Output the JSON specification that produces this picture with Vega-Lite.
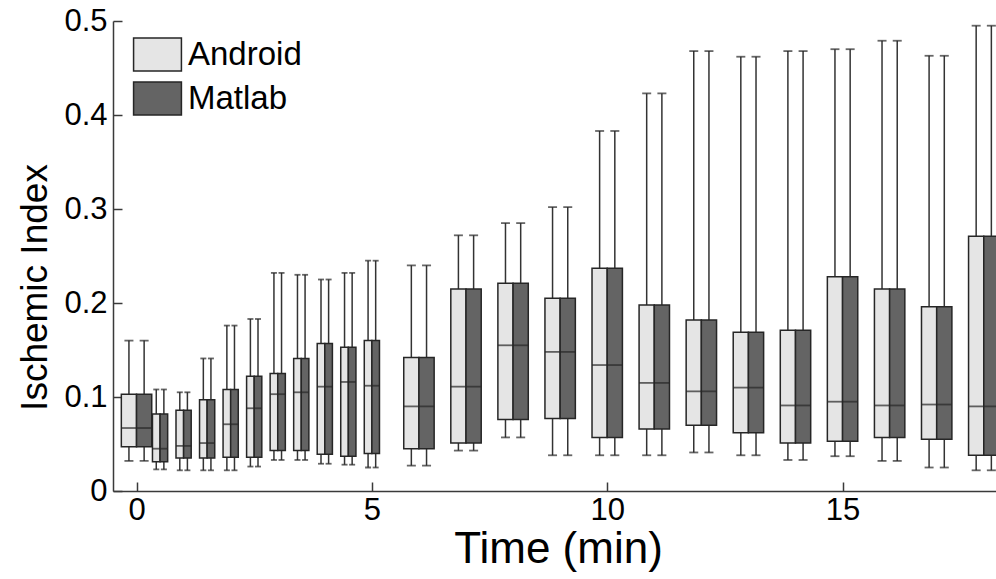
{
  "$schema": "https://vega.github.io/schema/vega-lite/v6.json",
  "width": 883,
  "height": 470,
  "autosize": {"type": "none"},
  "padding": {"left": 113, "top": 21, "right": 0, "bottom": 88},
  "background": "white",
  "config": {
    "view": {"stroke": null},
    "font": "Liberation Sans",
    "axis": {
      "grid": false,
      "domainColor": "#3a3a3a",
      "domainWidth": 1.5,
      "tickColor": "#3a3a3a",
      "tickWidth": 1.5,
      "tickSize": -9,
      "labelColor": "black",
      "titleColor": "black",
      "titleFontWeight": "normal"
    }
  },
  "data": {
    "values": [
      {"t": 0, "src": "Android", "lo": 0.032, "q1": 0.047, "med": 0.067, "q3": 0.103, "hi": 0.160},
      {"t": 0, "src": "Matlab", "lo": 0.032, "q1": 0.047, "med": 0.067, "q3": 0.103, "hi": 0.160},
      {"t": 0.5, "src": "Android", "lo": 0.023, "q1": 0.031, "med": 0.045, "q3": 0.082, "hi": 0.108},
      {"t": 0.5, "src": "Matlab", "lo": 0.023, "q1": 0.031, "med": 0.045, "q3": 0.082, "hi": 0.108},
      {"t": 1, "src": "Android", "lo": 0.022, "q1": 0.035, "med": 0.048, "q3": 0.086, "hi": 0.105},
      {"t": 1, "src": "Matlab", "lo": 0.022, "q1": 0.035, "med": 0.048, "q3": 0.086, "hi": 0.105},
      {"t": 1.5, "src": "Android", "lo": 0.022, "q1": 0.035, "med": 0.051, "q3": 0.097, "hi": 0.141},
      {"t": 1.5, "src": "Matlab", "lo": 0.022, "q1": 0.035, "med": 0.051, "q3": 0.097, "hi": 0.141},
      {"t": 2, "src": "Android", "lo": 0.022, "q1": 0.036, "med": 0.071, "q3": 0.108, "hi": 0.176},
      {"t": 2, "src": "Matlab", "lo": 0.022, "q1": 0.036, "med": 0.071, "q3": 0.108, "hi": 0.176},
      {"t": 2.5, "src": "Android", "lo": 0.026, "q1": 0.036, "med": 0.088, "q3": 0.122, "hi": 0.183},
      {"t": 2.5, "src": "Matlab", "lo": 0.026, "q1": 0.036, "med": 0.088, "q3": 0.122, "hi": 0.183},
      {"t": 3, "src": "Android", "lo": 0.033, "q1": 0.043, "med": 0.103, "q3": 0.125, "hi": 0.232},
      {"t": 3, "src": "Matlab", "lo": 0.033, "q1": 0.043, "med": 0.103, "q3": 0.125, "hi": 0.232},
      {"t": 3.5, "src": "Android", "lo": 0.033, "q1": 0.043, "med": 0.105, "q3": 0.141, "hi": 0.230},
      {"t": 3.5, "src": "Matlab", "lo": 0.033, "q1": 0.043, "med": 0.105, "q3": 0.141, "hi": 0.230},
      {"t": 4, "src": "Android", "lo": 0.029, "q1": 0.039, "med": 0.111, "q3": 0.157, "hi": 0.225},
      {"t": 4, "src": "Matlab", "lo": 0.029, "q1": 0.039, "med": 0.111, "q3": 0.157, "hi": 0.225},
      {"t": 4.5, "src": "Android", "lo": 0.028, "q1": 0.037, "med": 0.116, "q3": 0.153, "hi": 0.232},
      {"t": 4.5, "src": "Matlab", "lo": 0.028, "q1": 0.037, "med": 0.116, "q3": 0.153, "hi": 0.232},
      {"t": 5, "src": "Android", "lo": 0.025, "q1": 0.040, "med": 0.112, "q3": 0.160, "hi": 0.245},
      {"t": 5, "src": "Matlab", "lo": 0.025, "q1": 0.040, "med": 0.112, "q3": 0.160, "hi": 0.245},
      {"t": 6, "src": "Android", "lo": 0.027, "q1": 0.045, "med": 0.090, "q3": 0.142, "hi": 0.240},
      {"t": 6, "src": "Matlab", "lo": 0.027, "q1": 0.045, "med": 0.090, "q3": 0.142, "hi": 0.240},
      {"t": 7, "src": "Android", "lo": 0.043, "q1": 0.051, "med": 0.111, "q3": 0.215, "hi": 0.272},
      {"t": 7, "src": "Matlab", "lo": 0.043, "q1": 0.051, "med": 0.111, "q3": 0.215, "hi": 0.272},
      {"t": 8, "src": "Android", "lo": 0.057, "q1": 0.076, "med": 0.155, "q3": 0.221, "hi": 0.285},
      {"t": 8, "src": "Matlab", "lo": 0.057, "q1": 0.076, "med": 0.155, "q3": 0.221, "hi": 0.285},
      {"t": 9, "src": "Android", "lo": 0.038, "q1": 0.077, "med": 0.148, "q3": 0.205, "hi": 0.302},
      {"t": 9, "src": "Matlab", "lo": 0.038, "q1": 0.077, "med": 0.148, "q3": 0.205, "hi": 0.302},
      {"t": 10, "src": "Android", "lo": 0.038, "q1": 0.057, "med": 0.134, "q3": 0.237, "hi": 0.383},
      {"t": 10, "src": "Matlab", "lo": 0.038, "q1": 0.057, "med": 0.134, "q3": 0.237, "hi": 0.383},
      {"t": 11, "src": "Android", "lo": 0.038, "q1": 0.066, "med": 0.115, "q3": 0.198, "hi": 0.423},
      {"t": 11, "src": "Matlab", "lo": 0.038, "q1": 0.066, "med": 0.115, "q3": 0.198, "hi": 0.423},
      {"t": 12, "src": "Android", "lo": 0.041, "q1": 0.070, "med": 0.106, "q3": 0.182, "hi": 0.468},
      {"t": 12, "src": "Matlab", "lo": 0.041, "q1": 0.070, "med": 0.106, "q3": 0.182, "hi": 0.468},
      {"t": 13, "src": "Android", "lo": 0.038, "q1": 0.062, "med": 0.110, "q3": 0.169, "hi": 0.462},
      {"t": 13, "src": "Matlab", "lo": 0.038, "q1": 0.062, "med": 0.110, "q3": 0.169, "hi": 0.462},
      {"t": 14, "src": "Android", "lo": 0.033, "q1": 0.051, "med": 0.091, "q3": 0.171, "hi": 0.468},
      {"t": 14, "src": "Matlab", "lo": 0.033, "q1": 0.051, "med": 0.091, "q3": 0.171, "hi": 0.468},
      {"t": 15, "src": "Android", "lo": 0.037, "q1": 0.053, "med": 0.095, "q3": 0.228, "hi": 0.470},
      {"t": 15, "src": "Matlab", "lo": 0.037, "q1": 0.053, "med": 0.095, "q3": 0.228, "hi": 0.470},
      {"t": 16, "src": "Android", "lo": 0.032, "q1": 0.057, "med": 0.091, "q3": 0.215, "hi": 0.479},
      {"t": 16, "src": "Matlab", "lo": 0.032, "q1": 0.057, "med": 0.091, "q3": 0.215, "hi": 0.479},
      {"t": 17, "src": "Android", "lo": 0.025, "q1": 0.055, "med": 0.092, "q3": 0.196, "hi": 0.463},
      {"t": 17, "src": "Matlab", "lo": 0.025, "q1": 0.055, "med": 0.092, "q3": 0.196, "hi": 0.463},
      {"t": 18, "src": "Android", "lo": 0.022, "q1": 0.038, "med": 0.090, "q3": 0.271, "hi": 0.495},
      {"t": 18, "src": "Matlab", "lo": 0.022, "q1": 0.038, "med": 0.090, "q3": 0.271, "hi": 0.495}
    ]
  },
  "encoding": {
    "x": {
      "field": "t",
      "type": "quantitative",
      "scale": {"domain": [-0.5, 18.26], "nice": false, "zero": false, "padding": 0},
      "axis": {
        "values": [0, 5, 10, 15],
        "format": "d",
        "labelFlush": false,
        "labelPadding": 13,
        "labelFontSize": 31,
        "title": "Time (min)",
        "titleFontSize": 44,
        "titleX": 445,
        "titleY": 71,
        "titleAlign": "center",
        "titleBaseline": "alphabetic"
      }
    }
  },
  "layer": [
    {
      "mark": {
        "type": "rule",
        "color": "#333333",
        "strokeWidth": 1.5,
        "xOffset": {"expr": "(datum.src == 'Android' ? -0.5 : 0.5) * ((datum.t == 0 || datum.t >= 6) ? 15.2 : 7.6)"}
      },
      "encoding": {
        "y": {
          "field": "lo", "type": "quantitative", "scale": {"domain": [0, 0.5], "nice": false},
          "axis": {"values": [0, 0.1, 0.2, 0.3, 0.4, 0.5], "format": "~g", "labelPadding": 15, "labelFontSize": 31, "title": "Ischemic Index", "titleFontSize": 37, "titleAngle": -90, "titleX": -67, "titleY": 266, "titleAlign": "center", "titleBaseline": "alphabetic"}
        },
        "y2": {"field": "hi"}
      }
    },
    {
      "mark": {
        "type": "bar",
        "stroke": "#262626",
        "strokeWidth": 1.5,
        "width": {"expr": "(datum.t == 0 || datum.t >= 6) ? 15.2 : 7.6"},
        "xOffset": {"expr": "(datum.src == 'Android' ? -0.5 : 0.5) * ((datum.t == 0 || datum.t >= 6) ? 15.2 : 7.6)"}
      },
      "encoding": {
        "y": {
          "field": "q1", "type": "quantitative", "scale": {"domain": [0, 0.5], "nice": false},
          "axis": {"values": [0, 0.1, 0.2, 0.3, 0.4, 0.5], "format": "~g", "labelPadding": 15, "labelFontSize": 31, "title": "Ischemic Index", "titleFontSize": 37, "titleAngle": -90, "titleX": -67, "titleY": 266, "titleAlign": "center", "titleBaseline": "alphabetic"}
        },
        "y2": {"field": "q3"},
        "fill": {
          "field": "src",
          "type": "nominal",
          "scale": {"domain": ["Android", "Matlab"], "range": ["#e5e5e5", "#646464"]},
          "legend": {
            "orient": "none",
            "legendX": 27,
            "legendY": 16,
            "title": null,
            "padding": 0,
            "symbolType": "M-1.45,-1H1.45V1H-1.45Z",
            "symbolSize": 1089,
            "symbolStrokeColor": "#262626",
            "symbolStrokeWidth": 1.5,
            "symbolOpacity": 1,
            "labelFontSize": 33,
            "labelColor": "black",
            "labelOffset": 13,
            "rowPadding": 5
          }
        }
      }
    },
    {
      "mark": {
        "type": "tick",
        "orient": "horizontal",
        "color": "#262626",
        "thickness": 1.8,
        "size": {"expr": "(datum.t == 0 || datum.t >= 6) ? 15.2 : 7.6"},
        "xOffset": {"expr": "(datum.src == 'Android' ? -0.5 : 0.5) * ((datum.t == 0 || datum.t >= 6) ? 15.2 : 7.6)"}
      },
      "encoding": {
        "y": {
          "field": "med", "type": "quantitative", "scale": {"domain": [0, 0.5], "nice": false},
          "axis": {"values": [0, 0.1, 0.2, 0.3, 0.4, 0.5], "format": "~g", "labelPadding": 15, "labelFontSize": 31, "title": "Ischemic Index", "titleFontSize": 37, "titleAngle": -90, "titleX": -67, "titleY": 266, "titleAlign": "center", "titleBaseline": "alphabetic"}
        }
      }
    },
    {
      "mark": {
        "type": "tick",
        "orient": "horizontal",
        "color": "#262626",
        "thickness": 1.8,
        "size": {"expr": "(datum.t == 0 || datum.t >= 6) ? 9 : 6"},
        "xOffset": {"expr": "(datum.src == 'Android' ? -0.5 : 0.5) * ((datum.t == 0 || datum.t >= 6) ? 15.2 : 7.6)"}
      },
      "encoding": {
        "y": {
          "field": "lo", "type": "quantitative", "scale": {"domain": [0, 0.5], "nice": false},
          "axis": {"values": [0, 0.1, 0.2, 0.3, 0.4, 0.5], "format": "~g", "labelPadding": 15, "labelFontSize": 31, "title": "Ischemic Index", "titleFontSize": 37, "titleAngle": -90, "titleX": -67, "titleY": 266, "titleAlign": "center", "titleBaseline": "alphabetic"}
        }
      }
    },
    {
      "mark": {
        "type": "tick",
        "orient": "horizontal",
        "color": "#262626",
        "thickness": 1.8,
        "size": {"expr": "(datum.t == 0 || datum.t >= 6) ? 9 : 6"},
        "xOffset": {"expr": "(datum.src == 'Android' ? -0.5 : 0.5) * ((datum.t == 0 || datum.t >= 6) ? 15.2 : 7.6)"}
      },
      "encoding": {
        "y": {
          "field": "hi", "type": "quantitative", "scale": {"domain": [0, 0.5], "nice": false},
          "axis": {"values": [0, 0.1, 0.2, 0.3, 0.4, 0.5], "format": "~g", "labelPadding": 15, "labelFontSize": 31, "title": "Ischemic Index", "titleFontSize": 37, "titleAngle": -90, "titleX": -67, "titleY": 266, "titleAlign": "center", "titleBaseline": "alphabetic"}
        }
      }
    }
  ]
}
